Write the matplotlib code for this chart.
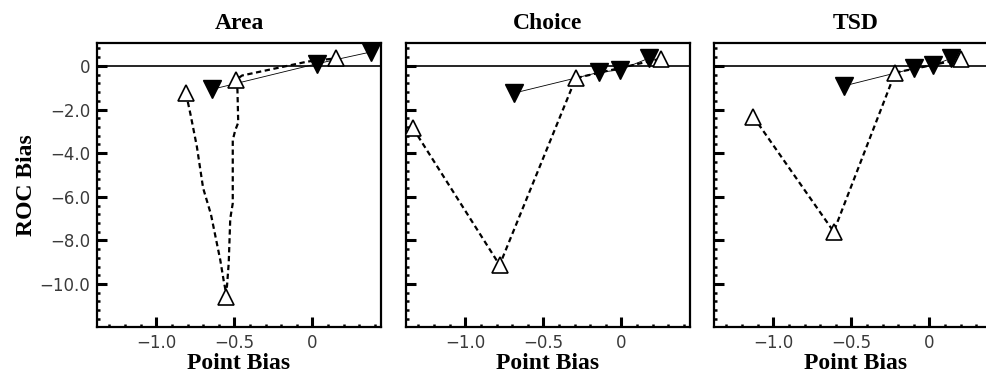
import numpy as np
import matplotlib.pyplot as plt
from matplotlib.ticker import MultipleLocator, FuncFormatter

# Dados (Point Bias x ROC Bias)
titulos = ['Area', 'Choice', 'TSD']

# Triângulos cheios (linha fina contínua)
cheio_x = [[-0.64, 0.03, 0.376],
           [-0.69, -0.146, -0.006, 0.175],
           [-0.548, -0.097, 0.022, 0.14]]
cheio_y = [[-1.07, 0.1, 0.64],
           [-1.25, -0.3, -0.18, 0.35],
           [-0.92, -0.11, 0.02, 0.35]]

# Triângulos vazios
vazio_x = [[-0.81, -0.556, -0.49, 0.154],
           [-1.335, -0.78, -0.292, 0.252],
           [-1.129, -0.613, -0.219, 0.204]]
vazio_y = [[-1.25, -10.6, -0.64, 0.35],
           [-2.86, -9.13, -0.56, 0.33],
           [-2.32, -7.6, -0.31, 0.31]]

# Curva tracejada (passa pelos triângulos vazios)
trac_x = [[-0.81, -0.78, -0.74, -0.70, -0.65, -0.59, -0.568, -0.556, -0.547, -0.536,
           -0.526, -0.51, -0.51, -0.494, -0.475, -0.48, -0.49, -0.45, -0.03, 0.154],
          [-1.335, -0.78, -0.292, 0.252],
          [-1.129, -0.613, -0.219, 0.204]]
trac_y = [[-1.25, -2.25, -3.7, -5.6, -6.8, -8.9, -9.85, -10.3, -10.1, -9.05,
           -7.0, -6.3, -3.4, -2.95, -2.6, -1.1, -0.64, -0.44, 0.2, 0.35],
          [-2.86, -9.13, -0.56, 0.33],
          [-2.32, -7.6, -0.31, 0.31]]

esquerdas = [97, 406, 714]  # posição em pixels de cada painel

fig = plt.figure(figsize=(9.87, 3.85), dpi=100)

fmt = FuncFormatter(lambda v, p: '0' if abs(v) < 1e-9 else f'{v:.1f}'.replace('-', '\u2212'))

for i in range(3):
    ax = fig.add_axes([esquerdas[i] / 987, 58 / 385, 284 / 987, 284 / 385])
    ax.axhline(0, color='black', lw=1.2, zorder=1)
    ax.plot(trac_x[i], trac_y[i], color='black', lw=1.6, ls=(0, (2.4, 1.6)), zorder=2)
    ax.plot(cheio_x[i], cheio_y[i], color='black', lw=0.6, zorder=2)
    ax.plot(vazio_x[i], vazio_y[i], ls='none', marker='^', ms=12, mfc='white',
            mec='black', mew=1.2, zorder=3)
    ax.plot(cheio_x[i], cheio_y[i], ls='none', marker='v', ms=13, mfc='black',
            mec='black', zorder=4)

    ax.set_xlim(-1.38, 0.44)
    ax.set_ylim(-11.97, 1.05)
    ax.xaxis.set_major_locator(MultipleLocator(0.5))
    ax.xaxis.set_minor_locator(MultipleLocator(0.1))
    ax.yaxis.set_major_locator(MultipleLocator(2.0))
    ax.yaxis.set_minor_locator(MultipleLocator(0.4))
    ax.xaxis.set_major_formatter(fmt)
    ax.yaxis.set_major_formatter(fmt)
    ax.tick_params(which='major', direction='in', length=7, width=2.2, labelsize=12,
                   labelcolor='#3a3a3a', pad=5, top=False, right=False)
    ax.tick_params(which='minor', direction='in', length=2.2, width=1.8, top=False, right=False)
    for lab in ax.get_xticklabels() + ax.get_yticklabels():
        lab.set_fontfamily('DejaVu Sans')
    for s in ax.spines.values():
        s.set_linewidth(1.6)
    if i > 0:
        ax.tick_params(axis='y', labelleft=False)
    else:
        ax.set_ylabel('ROC Bias', fontfamily='Liberation Serif', fontweight='bold',
                      fontsize=17, labelpad=2)

    ax.set_title(titulos[i], fontfamily='Liberation Serif', fontweight='bold',
                 fontsize=17, pad=10)
    ax.set_xlabel('Point Bias', fontfamily='Liberation Serif', fontweight='bold',
                  fontsize=17, labelpad=1)

plt.savefig('out.png', dpi=100)
